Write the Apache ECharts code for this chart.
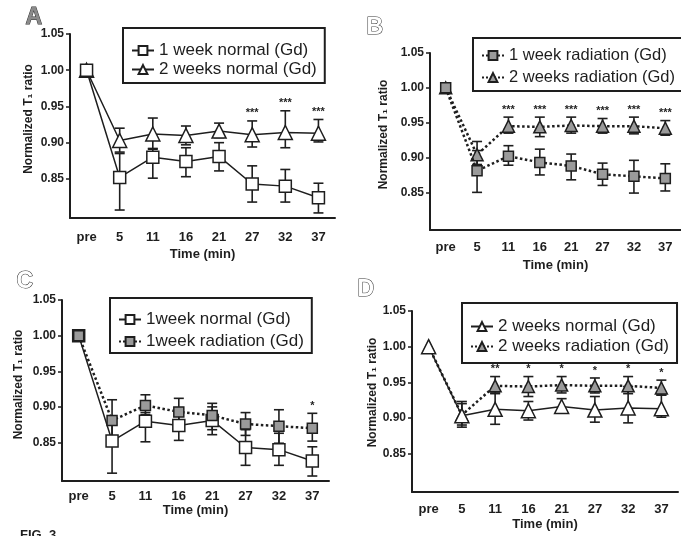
<!DOCTYPE html>
<html>
<head>
<meta charset="utf-8">
<script src="https://cdn.jsdelivr.net/npm/echarts@6/dist/echarts.min.js"></script>
<style>
  html, body { margin: 0; padding: 0; background: #fff; }
  #chart { width: 681px; height: 536px; }
</style>
</head>
<body>
<div id="chart"></div>
<script>
// Time points (x categories) shared by all four panels
const timePoints = ['pre', '5', '11', '16', '21', '27', '32', '37'];
const yTicks = [0.85, 0.90, 0.95, 1.00, 1.05];

// Normalized T1 ratio: means and error-bar ends (upper / lower)
const wk1NormalMean = [1.00, 0.852, 0.880, 0.874, 0.881, 0.843, 0.840, 0.824];
const wk1NormalHigh = [null, 0.885, 0.892, 0.893, 0.900, 0.868, 0.863, 0.844];
const wk1NormalLow  = [null, 0.807, 0.851, 0.853, 0.861, 0.818, 0.818, 0.803];

const wk2NormalMean = [1.00, 0.903, 0.912, 0.910, 0.916, 0.911, 0.914, 0.913];
const wk2NormalHigh = [null, 0.920, 0.934, 0.923, 0.927, 0.930, 0.944, 0.932];
const wk2NormalLow  = [null, 0.887, 0.891, 0.897, 0.907, 0.894, 0.893, 0.901];

const wk1RadMean = [1.00, 0.881, 0.902, 0.893, 0.888, 0.876, 0.873, 0.870];
const wk1RadHigh = [null, 0.910, 0.917, 0.912, 0.905, 0.892, 0.896, 0.891];
const wk1RadLow  = [null, 0.850, 0.889, 0.875, 0.868, 0.860, 0.849, 0.852];

const wk2RadMean = [1.00, 0.904, 0.945, 0.944, 0.946, 0.945, 0.945, 0.942];
const wk2RadHigh = [null, 0.923, 0.958, 0.958, 0.958, 0.956, 0.958, 0.953];
const wk2RadLow  = [null, 0.890, 0.935, 0.930, 0.935, 0.935, 0.934, 0.932];

// Significance marks per panel
const sigA = ['', '', '', '', '', '***', '***', '***'];
const sigB = ['', '', '***', '***', '***', '***', '***', '***'];
const sigC = ['', '', '', '', '', '', '', '*'];
const sigD = ['', '', '**', '*', '*', '*', '*', '*'];

const INK = '#1e1e1e';
const GREY = '#9a9a9a';
const FONT = '"Liberation Sans", Arial, sans-serif';

// panel layout: grid box, axis-name offsets
const panels = [
  { grid: { left: 70, top: 34, width: 265, height: 184 }, yGap: 35, yShift: 14, xMargin: 13, xGap: 30 },
  { grid: { left: 430, top: 53, width: 254, height: 177 }, yGap: 40, yShift: 14, xMargin: 11, xGap: 29 },
  { grid: { left: 62, top: 300, width: 267, height: 181 }, yGap: 37, yShift: 12, xMargin: 9, xGap: 21 },
  { grid: { left: 412, top: 311, width: 266, height: 181 }, yGap: 32, yShift: 18, xMargin: 11, xGap: 26 }
];

const styles = {
  wk1Normal: { symbol: 'rect', size: 12, fill: '#fff', dash: 'solid', width: 1.5 },
  wk2Normal: { symbol: 'triangle', size: 14, fill: '#fff', dash: 'solid', width: 1.5 },
  wk1Rad:    { symbol: 'rect', size: 10, fill: GREY, dash: 'dotted', width: 2.5 },
  wk2Rad:    { symbol: 'triangle', size: 12, fill: GREY, dash: 'dotted', width: 2.5 }
};

function lineSeries(gi, name, mean, st, z) {
  return {
    type: 'line', name, xAxisIndex: gi, yAxisIndex: gi, data: mean, z,
    symbol: st.symbol, symbolSize: st.size, showAllSymbol: true,
    itemStyle: { color: st.fill, borderColor: INK, borderWidth: 1.5 },
    lineStyle: { color: INK, width: st.width, type: st.dash },
    emphasis: { disabled: true }, animation: false
  };
}

function errorSeries(gi, low, high, z) {
  const data = [];
  low.forEach((l, i) => { if (l != null) data.push([i, l, high[i]]); });
  return {
    type: 'custom', xAxisIndex: gi, yAxisIndex: gi, z, silent: true, animation: false,
    data, encode: { x: 0, y: [1, 2] },
    renderItem(params, api) {
      const i = api.value(0);
      const a = api.coord([i, api.value(1)]);
      const b = api.coord([i, api.value(2)]);
      const w = 5;
      const st = { stroke: INK, lineWidth: 1.6 };
      return {
        type: 'group', children: [
          { type: 'line', shape: { x1: a[0], y1: a[1], x2: b[0], y2: b[1] }, style: st },
          { type: 'line', shape: { x1: a[0] - w, y1: a[1], x2: a[0] + w, y2: a[1] }, style: st },
          { type: 'line', shape: { x1: b[0] - w, y1: b[1], x2: b[0] + w, y2: b[1] }, style: st }
        ]
      };
    }
  };
}

function sigSeries(gi, marks, high) {
  const data = [];
  marks.forEach((m, i) => { if (m) data.push([i, high[i], m]); });
  return {
    type: 'custom', xAxisIndex: gi, yAxisIndex: gi, z: 10, silent: true, animation: false,
    data, encode: { x: 0, y: 1 },
    renderItem(params, api) {
      const p = api.coord([api.value(0), api.value(1)]);
      return {
        type: 'text', x: p[0], y: p[1] - 2,
        style: { text: marks[api.value(0)], fill: INK, font: 'bold 11px ' + FONT, align: 'center', verticalAlign: 'bottom' }
      };
    }
  };
}

const grids = panels.map(p => p.grid);

const xAxes = panels.map((p, gi) => ({
  type: 'category', gridIndex: gi, data: timePoints,
  name: 'Time (min)', nameLocation: 'middle', nameGap: p.xGap,
  nameTextStyle: { fontFamily: FONT, fontWeight: 'bold', fontSize: 13, color: INK },
  axisLine: { lineStyle: { color: INK, width: 2 } },
  axisTick: { alignWithLabel: true, length: 4, lineStyle: { color: INK, width: 1.5 } },
  axisLabel: { margin: p.xMargin, fontFamily: FONT, fontWeight: 'bold', fontSize: 13, color: INK },
  splitLine: { show: false }
}));

const yAxes = panels.map((p, gi) => ({
  type: 'value', gridIndex: gi, min: 0.796, max: 1.05,
  name: 'Normalized T\u2081 ratio', nameLocation: 'middle', nameGap: p.yGap,
  nameTextStyle: { fontFamily: FONT, fontWeight: 'bold', fontSize: 12, color: INK, padding: [0, 0, 0, p.yShift] },
  axisLine: { show: true, lineStyle: { color: INK, width: 2 } },
  axisTick: { show: true, length: 4, customValues: yTicks, lineStyle: { color: INK, width: 1.5 } },
  axisLabel: { margin: 6, customValues: yTicks, formatter: v => v.toFixed(2), fontFamily: FONT, fontWeight: 'bold', fontSize: 12, color: INK },
  splitLine: { show: false }
}));

const series = [
  // A: normal, 1 vs 2 weeks
  errorSeries(0, wk1NormalLow, wk1NormalHigh, 1),
  errorSeries(0, wk2NormalLow, wk2NormalHigh, 1),
  lineSeries(0, '1 week normal (Gd)', wk1NormalMean, styles.wk1Normal, 3),
  lineSeries(0, '2 weeks normal (Gd)', wk2NormalMean, styles.wk2Normal, 2),
  sigSeries(0, sigA, wk2NormalHigh),
  // B: radiation, 1 vs 2 weeks
  errorSeries(1, wk1RadLow, wk1RadHigh, 1),
  errorSeries(1, wk2RadLow, wk2RadHigh, 1),
  lineSeries(1, '1 week radiation (Gd)', wk1RadMean, styles.wk1Rad, 3),
  lineSeries(1, '2 weeks radiation (Gd)', wk2RadMean, styles.wk2Rad, 2),
  sigSeries(1, sigB, wk2RadHigh),
  // C: 1 week, normal vs radiation
  errorSeries(2, wk1NormalLow, wk1NormalHigh, 1),
  errorSeries(2, wk1RadLow, wk1RadHigh, 1),
  lineSeries(2, '1week normal (Gd)', wk1NormalMean, styles.wk1Normal, 2),
  lineSeries(2, '1week radiation (Gd)', wk1RadMean, styles.wk1Rad, 3),
  sigSeries(2, sigC, wk1RadHigh),
  // D: 2 weeks, normal vs radiation
  errorSeries(3, wk2NormalLow, wk2NormalHigh, 1),
  errorSeries(3, wk2RadLow, wk2RadHigh, 1),
  lineSeries(3, '2 weeks normal (Gd)', wk2NormalMean, styles.wk2Normal, 3),
  lineSeries(3, '2 weeks radiation (Gd)', wk2RadMean, styles.wk2Rad, 2),
  sigSeries(3, sigD, wk2RadHigh)
];

function legendBox(names, left, top, fontSize, padding, itemGap) {
  return {
    data: names, left, top, orient: 'vertical', itemGap,
    itemWidth: 22, itemHeight: 11, padding,
    borderColor: INK, borderWidth: 2, backgroundColor: '#fff',
    selectedMode: false,
    textStyle: { fontFamily: FONT, fontSize, color: INK }
  };
}

const legends = [
  legendBox(['1 week normal (Gd)', '2 weeks normal (Gd)'], 123, 28, 17, [14, 8, 5, 8], 2),
  legendBox(['1 week radiation (Gd)', '2 weeks radiation (Gd)'], 473, 38, 16.5, [9, 8, 5, 8], 5),
  legendBox(['1week normal (Gd)', '1week radiation (Gd)'], 110, 298, 17, [13, 8, 3, 8], 5),
  legendBox(['2 weeks normal (Gd)', '2 weeks radiation (Gd)'], 462, 303, 17, [15, 8, 8, 8], 3)
];

function letter(t, x, y, fill) {
  return {
    type: 'text', left: x, top: y,
    style: { text: t, font: 'bold 23px ' + FONT, fill, stroke: '#333', lineWidth: 1 }
  };
}

const chart = echarts.init(document.getElementById('chart'), null, { renderer: 'canvas' });
chart.setOption({
  backgroundColor: '#fff',
  animation: false,
  grid: grids,
  xAxis: xAxes,
  yAxis: yAxes,
  legend: legends,
  series,
  graphic: [
    letter('A', 25, 6, '#8a8a8a'),
    letter('B', 366, 16, '#fff'),
    letter('C', 16, 270, '#fff'),
    letter('D', 357, 278, '#fff'),
    { type: 'text', left: 20, top: 529, style: { text: 'FIG. 3.', font: 'bold 13px ' + FONT, fill: INK } }
  ]
});
</script>
</body>
</html>
